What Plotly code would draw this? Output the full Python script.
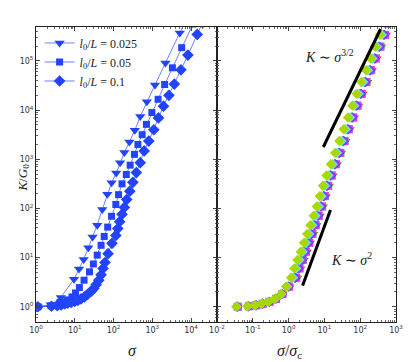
import numpy as np
import plotly.graph_objects as go

# left panel: log10(sigma), log10(K/G0) for each l0/L
tri_lx = [0.04, 0.38, 0.64, 0.98, 1.11, 1.23, 1.35, 1.46, 1.58, 1.71, 1.84, 1.95, 2.07, 2.17,
          2.28, 2.41, 2.55, 2.69, 2.86, 3.07, 3.34, 3.71, 3.85]
tri_ly = [0.0, 0.04, 0.19, 0.56, 0.77, 0.96, 1.20, 1.42, 1.66, 1.98, 2.29, 2.52, 2.72, 2.93,
          3.14, 3.35, 3.59, 3.87, 4.17, 4.51, 4.96, 5.57, 5.80]
sq_lx = [0.05, 0.39, 0.62, 0.80, 0.93, 1.02, 1.12, 1.24, 1.38, 1.48, 1.58, 1.68, 1.76, 1.85,
         1.95, 2.06, 2.13, 2.22, 2.33, 2.43, 2.54, 2.63, 2.74, 2.85, 2.99, 3.15, 3.32, 3.52,
         3.76, 4.05]
sq_ly = [0.0, 0.02, 0.09, 0.14, 0.20, 0.28, 0.39, 0.54, 0.71, 0.87, 1.05, 1.25, 1.43, 1.62,
         1.84, 2.08, 2.28, 2.50, 2.69, 2.88, 3.10, 3.30, 3.50, 3.71, 3.95, 4.22, 4.52, 4.86,
         5.27, 5.75]
dia_lx = [0.05, 0.40, 0.55, 0.65, 0.74, 0.82, 0.91, 1.00, 1.08, 1.16, 1.25, 1.33, 1.42, 1.49,
          1.55, 1.62, 1.68, 1.73, 1.78, 1.86, 1.96, 2.06, 2.11, 2.16, 2.22, 2.28, 2.34, 2.42,
          2.50, 2.59, 2.69, 2.79, 2.91, 3.04, 3.16, 3.29, 3.43, 3.57, 3.74, 3.92, 4.16, 4.30]
dia_ly = [0.0, 0.01, 0.02, 0.04, 0.06, 0.075, 0.09, 0.11, 0.13, 0.16, 0.20, 0.25, 0.31, 0.37,
          0.45, 0.54, 0.65, 0.78, 0.90, 1.08, 1.29, 1.45, 1.59, 1.73, 1.88, 2.02, 2.18, 2.35,
          2.53, 2.73, 2.93, 3.17, 3.37, 3.60, 3.84, 4.08, 4.30, 4.53, 4.82, 5.12, 5.54, 5.78]
left_names = ["<i>l</i><sub>0</sub>/<i>L</i> = 0.025", "<i>l</i><sub>0</sub>/<i>L</i> = 0.05",
              "<i>l</i><sub>0</sub>/<i>L</i> = 0.1"]

# right panel: collapsed data, log10(K/G0) shared, log10(sigma/sigma_c) per set
col_ly = [0.0, 0.01, 0.03, 0.06, 0.10, 0.16, 0.26, 0.41, 0.59, 0.78, 0.95, 1.12, 1.30, 1.48,
          1.66, 1.85, 2.04, 2.25, 2.46, 2.67, 2.90, 3.13, 3.37, 3.61, 3.85, 4.09, 4.33, 4.57,
          4.81, 5.05, 5.29, 5.53, 5.77]
red_lx = [-1.41, -1.10, -0.89, -0.71, -0.52, -0.34, -0.16, 0.03, 0.25, 0.34, 0.43, 0.52, 0.61,
          0.70, 0.79, 0.88, 0.97, 1.05, 1.14, 1.24, 1.36, 1.48, 1.60, 1.72, 1.84, 1.96, 2.08,
          2.21, 2.34, 2.47, 2.60, 2.73, 2.86]
grn_lx = [-1.42, -1.11, -0.90, -0.72, -0.53, -0.35, -0.17, 0.02, 0.22, 0.31, 0.40, 0.49, 0.58,
          0.67, 0.76, 0.85, 0.94, 1.02, 1.11, 1.21, 1.33, 1.45, 1.57, 1.69, 1.81, 1.93, 2.05,
          2.18, 2.31, 2.44, 2.57, 2.70, 2.83]
mag_lx = [-1.42, -1.11, -0.90, -0.72, -0.53, -0.35, -0.17, 0.01, 0.21, 0.30, 0.39, 0.48, 0.57,
          0.66, 0.75, 0.84, 0.93, 1.01, 1.10, 1.20, 1.32, 1.44, 1.56, 1.68, 1.80, 1.92, 2.04,
          2.17, 2.30, 2.43, 2.56, 2.69, 2.82]
blu_lx = [-1.43, -1.12, -0.91, -0.73, -0.54, -0.36, -0.18, 0.00, 0.19, 0.28, 0.37, 0.46, 0.55,
          0.64, 0.73, 0.82, 0.91, 0.99, 1.08, 1.18, 1.30, 1.42, 1.54, 1.66, 1.78, 1.90, 2.02,
          2.15, 2.28, 2.41, 2.54, 2.67, 2.80]
pur_lx = [-1.43, -1.12, -0.91, -0.73, -0.54, -0.36, -0.18, -0.01, 0.17, 0.26, 0.35, 0.44, 0.53,
          0.62, 0.71, 0.80, 0.89, 0.97, 1.06, 1.16, 1.28, 1.40, 1.52, 1.64, 1.76, 1.88, 2.00,
          2.13, 2.26, 2.39, 2.52, 2.65, 2.78]
cya_lx = [-1.45, -1.14, -0.93, -0.75, -0.56, -0.38, -0.20, -0.04, 0.12, 0.21, 0.30, 0.39, 0.48,
          0.57, 0.66, 0.75, 0.84, 0.92, 1.01, 1.11, 1.23, 1.35, 1.47, 1.59, 1.71, 1.83, 1.95,
          2.08, 2.21, 2.34, 2.47, 2.60, 2.73]
ygr_lx = [-1.46, -1.15, -0.94, -0.76, -0.57, -0.39, -0.21, -0.07, 0.07, 0.16, 0.25, 0.34, 0.43,
          0.52, 0.61, 0.70, 0.79, 0.87, 0.96, 1.06, 1.18, 1.30, 1.42, 1.54, 1.66, 1.78, 1.90,
          2.03, 2.16, 2.29, 2.42, 2.55, 2.68]

# guide lines (log10 endpoints)
g32_lx, g32_ly = [0.97, 2.57], [3.25, 5.65]
g2_lx, g2_ly = [0.39, 1.17], [0.43, 1.97]

def p10(a):
    return 10 ** np.array(a, dtype=float)

def sup(e):
    return "10<sup>%s</sup>" % (str(e) if e >= 0 else "-" + str(-e))

blue = "#2244ff"
fig = go.Figure()

for lx, ly, sym, sz, nm in [(tri_lx, tri_ly, "triangle-down", 9, left_names[0]),
                            (sq_lx, sq_ly, "square", 7, left_names[1]),
                            (dia_lx, dia_ly, "diamond", 9, left_names[2])]:
    fig.add_trace(go.Scatter(
        x=p10(lx), y=p10(ly), mode="lines+markers", name=nm,
        line=dict(color="rgba(60,90,255,0.75)", width=1),
        marker=dict(symbol=sym, size=sz, color=blue),
        xaxis="x", yaxis="y"))

for lx, c, sym in [(red_lx, "#ff1a1a", "triangle-down"), (grn_lx, "#33ee33", "square"),
                   (mag_lx, "#ff30ff", "square"), (blu_lx, "#2244ff", "diamond"),
                   (pur_lx, "#a040ff", "diamond"), (cya_lx, "#66eedd", "diamond"),
                   (ygr_lx, "#a8d800", "diamond")]:
    fig.add_trace(go.Scatter(
        x=p10(lx), y=p10(col_ly), mode="markers", showlegend=False,
        marker=dict(symbol=sym, size=8, color=c),
        xaxis="x2", yaxis="y2"))

for gx, gy in [(g32_lx, g32_ly), (g2_lx, g2_ly)]:
    fig.add_trace(go.Scatter(
        x=p10(gx), y=p10(gy), mode="lines", showlegend=False,
        line=dict(color="black", width=3), xaxis="x2", yaxis="y2"))

tickfont = dict(family="DejaVu Sans", size=8, color="#333")
serif = "Liberation Serif"
axis_common = dict(type="log", showgrid=False, zeroline=False, showline=True,
                   linecolor="#222", linewidth=1, mirror="allticks", ticks="inside",
                   ticklen=4, tickcolor="#444", tickfont=tickfont,
                   minor=dict(ticks="inside", ticklen=2, tickcolor="#666", dtick="D1"))

xl = list(range(0, 5))
xr = list(range(-2, 4))
yl = list(range(0, 6))

# the page body adds an 8px margin, so the figure is shifted by 8px
fig.update_layout(
    width=407, height=354,
    margin=dict(l=26, r=15, t=19, b=40),
    plot_bgcolor="white", paper_bgcolor="white",
    xaxis=dict(axis_common, domain=[0, 0.5027], range=[0, 4.67], anchor="y",
               tickmode="array", tickvals=[10 ** e for e in xl], ticktext=[sup(e) for e in xl]),
    yaxis=dict(axis_common, domain=[0, 1], range=[-0.31, 5.69], anchor="x",
               tickmode="array", tickvals=[10 ** e for e in yl], ticktext=[sup(e) for e in yl]),
    xaxis2=dict(axis_common, domain=[0.5027, 1], range=[-2, 3], anchor="y2",
                tickmode="array", tickvals=[10.0 ** e for e in xr], ticktext=[sup(e) for e in xr]),
    yaxis2=dict(axis_common, domain=[0, 1], range=[-0.31, 5.69], anchor="x2",
                tickmode="array", tickvals=[10 ** e for e in yl], showticklabels=False),
    legend=dict(x=0.01, y=0.995, xanchor="left", yanchor="top", bgcolor="rgba(0,0,0,0)",
                font=dict(family=serif, size=12, color="#222"), tracegroupgap=0),
    showlegend=True,
)

fig.add_annotation(x=1.13, y=5.10, xref="x2", yref="y2", showarrow=False,
                   text="<i>K</i> ∼ <i>σ</i><sup>3/2</sup>",
                   font=dict(family=serif, size=14, color="#222"))
fig.add_annotation(x=1.76, y=0.98, xref="x2", yref="y2", showarrow=False,
                   text="<i>K</i> ∼ <i>σ</i><sup>2</sup>",
                   font=dict(family=serif, size=14, color="#222"))
fig.add_annotation(x=0.25, y=-0.06, xref="paper", yref="paper", yanchor="top", showarrow=False,
                   text="<i>σ</i>", font=dict(family=serif, size=16, color="#222"))
fig.add_annotation(x=0.745, y=-0.06, xref="paper", yref="paper", yanchor="top", showarrow=False,
                   text="<i>σ</i>/<i>σ</i><sub>c</sub>", font=dict(family=serif, size=16, color="#222"))
fig.add_annotation(x=-0.065, y=0.49, xref="paper", yref="paper", showarrow=False, textangle=-90,
                   text="<i>K</i>/<i>G</i><sub>0</sub>", font=dict(family=serif, size=13, color="#222"))

fig.write_html("out.html")
